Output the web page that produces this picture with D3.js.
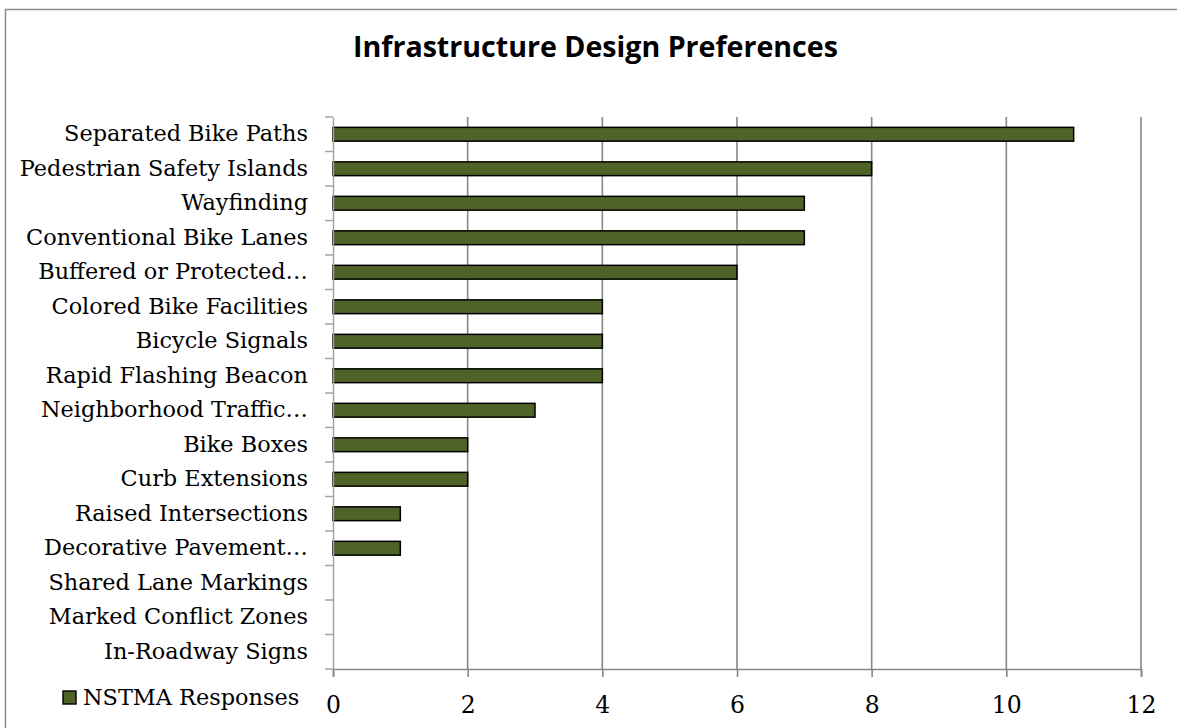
<!DOCTYPE html>
<html><head><meta charset="utf-8">
<script src="https://cdn.jsdelivr.net/npm/d3@7"></script>
<style>body{margin:0;background:#fff;overflow:hidden}svg{display:block}</style>
</head><body>
<svg id="c" width="1177" height="728"></svg>
<script>
const title = "Infrastructure Design Preferences";
const seriesName = "NSTMA Responses";
const categories = ["Separated Bike Paths","Pedestrian Safety Islands","Wayfinding","Conventional Bike Lanes","Buffered or Protected…","Colored Bike Facilities","Bicycle Signals","Rapid Flashing Beacon","Neighborhood Traffic…","Bike Boxes","Curb Extensions","Raised Intersections","Decorative Pavement…","Shared Lane Markings","Marked Conflict Zones","In-Roadway Signs"];
const values = [11,8,7,7,6,4,4,4,3,2,2,1,1,0,0,0];
const xTicks = [0,2,4,6,8,10,12];

const svg = d3.select("#c");
const W = 1177, H = 728;
const L = 333, R = 1141, T = 117, B = 669;
const serif = "'DejaVu Serif', 'Liberation Serif', serif";

// outer frame (only top and left edges are inside the picture)
svg.append("path").attr("d",`M5.5,${H} V9.5 H${W}`)
  .attr("fill","none").attr("stroke","#8c8c8c").attr("stroke-width",1.5);

const x = d3.scaleLinear().domain([0,12]).range([L,R]);
const y = d3.scaleBand().domain(categories).range([T,B]).paddingInner(0.6).paddingOuter(0.3);
const yb = d3.scaleBand().domain(categories).range([T,B]);

// gridlines
svg.append("g").selectAll("line").data(xTicks.filter(d=>d>0)).join("line")
  .attr("x1",d=>x(d)).attr("x2",d=>x(d)).attr("y1",T).attr("y2",B)
  .attr("stroke","#878787").attr("stroke-width",1.6);

// bars
svg.append("g").selectAll("rect").data(values.map((v,i)=>({c:categories[i],v}))).join("rect")
  .filter(d=>d.v>0)
  .attr("x",x(0)).attr("y",d=>y(d.c)).attr("width",d=>x(d.v)-x(0)).attr("height",y.bandwidth())
  .attr("fill","#4f6228").attr("stroke","#000").attr("stroke-width",1.5);

// x axis
const xa = svg.append("g").attr("transform",`translate(0,${B})`)
  .call(d3.axisBottom(x).tickValues(xTicks).tickSize(8).tickPadding(19).tickFormat(d3.format("d")));
xa.select(".domain").attr("stroke","#878787").attr("stroke-width",1.6);
xa.selectAll(".tick line").attr("stroke","#878787").attr("stroke-width",1.6);
xa.selectAll("text").attr("font-family",serif).attr("font-size",21).attr("fill","#000");

// y axis
const ya = svg.append("g").attr("transform",`translate(${L},0)`)
  .call(d3.axisLeft(yb).tickSize(0).tickPadding(25));
ya.select(".domain").attr("stroke","#a0a0a0").attr("stroke-width",1.4);
ya.selectAll("text").attr("font-family",serif).attr("font-size",21).attr("fill","#000");
// boundary ticks
const bounds = categories.map(c=>yb(c)).concat([B]);
ya.append("g").selectAll("line").data(bounds).join("line")
  .attr("x1",-8).attr("x2",0).attr("y1",d=>d).attr("y2",d=>d)
  .attr("stroke","#a0a0a0").attr("stroke-width",1.4);

// fit label font so the first label width matches the reference
const first = ya.selectAll(".tick text").filter(d=>d===categories[0]).node();
const fs = 21 * 244 / first.getComputedTextLength();
ya.selectAll("text").attr("font-size",fs);
xa.selectAll("text").attr("font-size",fs*1.05);

// title
const t = svg.append("text").attr("x",(353+838)/2).attr("y",57).attr("text-anchor","middle")
  .attr("font-family","'Open Sans', 'Noto Sans', sans-serif").attr("font-weight","bold")
  .attr("font-size",26).attr("fill","#000").text(title);
t.attr("font-size", 26*485/t.node().getComputedTextLength());

// legend
svg.append("rect").attr("x",63).attr("y",691).attr("width",13).attr("height",13)
  .attr("fill","#4f6228").attr("stroke","#000").attr("stroke-width",1.4);
svg.append("text").attr("x",83).attr("y",698).attr("font-family",serif)
  .attr("font-size",fs).attr("fill","#000").attr("dy","0.32em").text(seriesName);
</script>
</body></html>
